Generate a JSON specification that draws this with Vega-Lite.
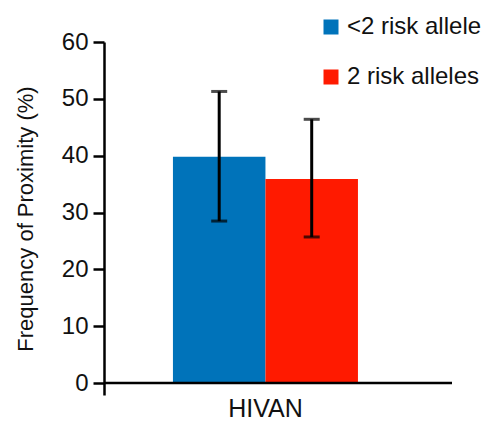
{
  "$schema": "https://vega.github.io/schema/vega-lite/v6.json",
  "autosize": "none",
  "padding": {"left": 104, "top": 42, "right": 44, "bottom": 26},
  "width": 348,
  "height": 353,
  "config": {
    "font": "Liberation Sans",
    "view": {"stroke": null},
    "axis": {"grid": false}
  },
  "data": {
    "values": [
      {"disease": "HIVAN", "group": "<2 risk allele", "freq": 39.8, "low": 28.5, "high": 51.3},
      {"disease": "HIVAN", "group": "2 risk alleles", "freq": 35.9, "low": 25.7, "high": 46.4}
    ]
  },
  "encoding": {
    "x": {
      "field": "disease",
      "type": "nominal",
      "scale": {"paddingInner": 0, "paddingOuter": 0.4405, "align": 0.423},
      "axis": {"title": null, "domain": false, "ticks": false, "labelAngle": 0, "labelFontSize": 25, "labelColor": "#111", "labelPadding": 1, "labelDx": -4}
    },
    "xOffset": {"field": "group", "type": "nominal", "sort": ["<2 risk allele", "2 risk alleles"], "scale": {"paddingInner": 0, "paddingOuter": 0}}
  },
  "layer": [
    {
      "mark": {"type": "bar"},
      "encoding": {
        "y": {
          "field": "freq",
          "type": "quantitative",
          "scale": {"domain": [-2.1, 60], "nice": false, "zero": false},
          "axis": {
            "title": "Frequency of Proximity (%)",
            "titleFontSize": 22,
            "titleFontWeight": "normal",
            "titleColor": "#111",
            "titlePadding": 24,
            "values": [0, 10, 20, 30, 40, 50, 60],
            "labelFontSize": 24,
            "labelColor": "#111",
            "labelPadding": 5,
            "tickSize": 11,
            "tickWidth": 2.5,
            "tickColor": "#000",
            "domainColor": "#000",
            "domainWidth": 2.5
          }
        },
        "y2": {"datum": 0},
        "color": {
          "field": "group",
          "type": "nominal",
          "scale": {"domain": ["<2 risk allele", "2 risk alleles"], "range": ["#0073BA", "#FF1A00"]},
          "legend": {
            "title": null,
            "orient": "none",
            "legendX": 215,
            "legendY": -27,
            "symbolType": "square",
            "symbolSize": 225,
            "symbolStrokeWidth": 0,
            "labelFontSize": 24,
            "labelColor": "#111",
            "labelOffset": 4,
            "labelExpr": "datum.label == '2 risk alleles' ? '\u00a02 risk alleles' : datum.label",
            "rowPadding": 26
          }
        }
      }
    },
    {
      "mark": {"type": "rule", "strokeWidth": 3, "color": "#000"},
      "encoding": {
        "y": {"field": "low", "type": "quantitative"},
        "y2": {"field": "high"}
      }
    },
    {
      "mark": {"type": "tick", "size": 16, "thickness": 3, "color": "#000"},
      "encoding": {"y": {"field": "low", "type": "quantitative"}}
    },
    {
      "mark": {"type": "tick", "size": 16, "thickness": 3, "color": "#000"},
      "encoding": {"y": {"field": "high", "type": "quantitative"}}
    },
    {
      "data": {"values": [{"base": 0}]},
      "mark": {"type": "rule", "strokeWidth": 2.5, "color": "#000"},
      "encoding": {"y": {"field": "base", "type": "quantitative"}, "x": null, "xOffset": null}
    }
  ]
}
